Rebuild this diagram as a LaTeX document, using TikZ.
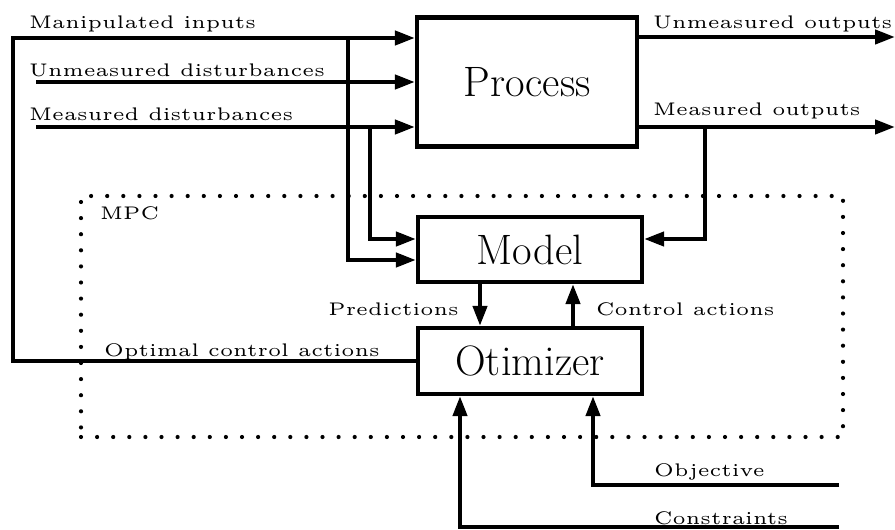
\documentclass[tikz,border=0pt]{standalone}
\usepackage{graphicx}
\usetikzlibrary{arrows.meta}
\newcommand{\lbl}[1]{\scalebox{3.87}[3.65]{\fontsize{5}{6}\selectfont #1}}
\tikzset{
  blk/.style={draw, line width=4.2pt, inner sep=0pt, font=\fontsize{42.5}{44}\selectfont},
  arr/.style={line width=4.2pt, -{Triangle[length=20pt,width=14pt]}},
  lab/.style={inner sep=0pt},
  mpcbox/.style={draw, line width=4.2pt, line cap=round, dash pattern=on 0pt off 16.1pt, inner sep=0pt},
}
\begin{document}
\begin{tikzpicture}[x=1pt,y=-1pt]
\useasboundingbox (0,0) rectangle (895,530);
% MPC dotted frame
\node[mpcbox, minimum width=762pt, minimum height=241pt] (mpc) at (462,316.5) {};
% blocks
\node[blk, minimum width=220pt, minimum height=129pt] (proc) at (527,82) {Process};
\node[blk, minimum width=224pt, minimum height=65pt] (model) at (530,249.5) {Model};
\node[blk, minimum width=224pt, minimum height=66pt] (opt) at (530,361) {Otimizer};
% coordinates
\coordinate (mi) at (13,38);
\coordinate (ud) at (36,82);
\coordinate (md) at (36,127);
\coordinate (miB) at (348,38);
\coordinate (mdB) at (370,127);
\coordinate (uo) at (895,37);
\coordinate (mo) at (895,127);
\coordinate (moB) at (705,127);
\coordinate (obj) at (839,485);
\coordinate (con) at (839,527);
% manipulated inputs loop
\draw[arr] (opt.west) -| (mi) -- (proc.west |- mi);
\draw[arr] (ud) -- (proc.west |- ud);
\draw[arr] (md) -- (proc.west |- md);
\draw[arr] (miB) |- (model.west |- 0,260);
\draw[arr] (mdB) |- (model.west |- 0,239);
% outputs
\draw[arr] (proc.east |- uo) -- (uo);
\draw[arr] (proc.east |- mo) -- (mo);
\draw[arr] (moB) |- (model.east |- 0,239);
% model <-> optimizer
\draw[arr] (model.south -| 480,0) -- (opt.north -| 480,0);
\draw[arr] (opt.north -| 573,0) -- (model.south -| 573,0);
% objective / constraints
\draw[arr] (obj) -| (opt.south -| 593,0);
\draw[arr] (con) -| (opt.south -| 460,0);
% labels
\node[lab, anchor=base west] (tmi) at (29,28.5) {\lbl{Manipulated inputs}};
\node[lab, anchor=base west] (tud) at (29,76.7) {\lbl{Unmeasured disturbances}};
\node[lab, anchor=base west] (tmd) at (29,120) {\lbl{Measured disturbances}};
\node[lab, anchor=base west] (tuo) at (653,28) {\lbl{Unmeasured outputs}};
\node[lab, anchor=base west] (tmo) at (653,115) {\lbl{Measured outputs}};
\node[lab, anchor=base west] (tmpc) at (100,219) {\lbl{MPC}};
\node[lab, anchor=base east] (tpr) at (459,315) {\lbl{Predictions}};
\node[lab, anchor=base west] (tca) at (596,315) {\lbl{Control actions}};
\node[lab, anchor=base west] (toca) at (104,356.7) {\lbl{Optimal control actions}};
\node[lab, anchor=base west] (tobj) at (654,476.5) {\lbl{Objective}};
\node[lab, anchor=base west] (tcon) at (654,524) {\lbl{Constraints}};
\end{tikzpicture}
\end{document}
